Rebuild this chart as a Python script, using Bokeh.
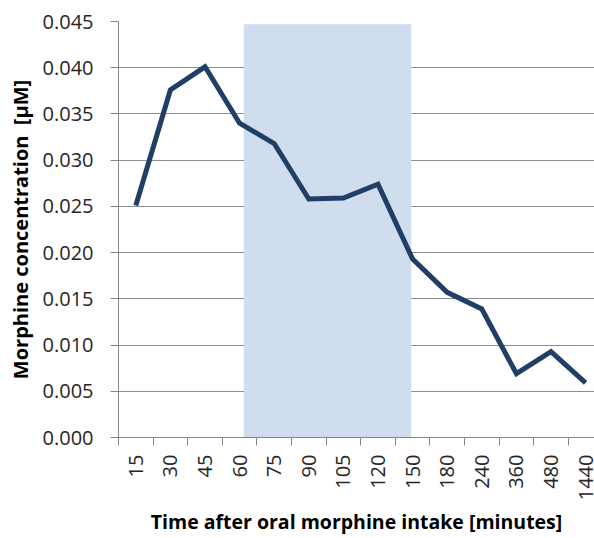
import math
from bokeh.plotting import figure
from bokeh.models import Range1d, FixedTicker, BoxAnnotation, NumeralTickFormatter
from bokeh.embed import file_html
from bokeh.resources import INLINE

# Data
times = ["15", "30", "45", "60", "75", "90", "105", "120", "150", "180", "240", "360", "480", "1440"]
concentration = [0.0251, 0.0376, 0.0401, 0.0340, 0.0318, 0.0258, 0.0259, 0.0274,
                 0.0193, 0.0157, 0.0139, 0.0069, 0.0093, 0.0059]
shade_start = 3.62   # category units
shade_end = 8.46
shade_top = 0.0447
y_ticks = [0.0, 0.005, 0.010, 0.015, 0.020, 0.025, 0.030, 0.035, 0.040, 0.045]

xs = [i + 0.5 for i in range(len(times))]
boundaries = [float(i) for i in range(len(times) + 1)]

p = figure(width=594, height=538, output_backend="svg", toolbar_location=None,
           x_range=Range1d(0, 13.757), y_range=Range1d(0, 0.045),
           min_border_left=118, min_border_right=0, min_border_top=21, min_border_bottom=100)
p.outline_line_color = None
p.background_fill_color = "white"
p.border_fill_color = "white"

p.add_layout(BoxAnnotation(left=shade_start, right=shade_end, bottom=0, top=shade_top,
                           fill_color="#D0DDEE", fill_alpha=1.0, line_color=None, level="underlay"))

p.line(xs, concentration, line_color="#1F3F66", line_width=5, line_join="miter")

# x axis
p.xaxis.ticker = FixedTicker(ticks=xs, minor_ticks=boundaries)
p.xaxis.major_label_overrides = {x: t for x, t in zip(xs, times)}
p.xaxis.major_tick_line_color = None
p.xaxis.major_tick_out = 8
p.xaxis.minor_tick_line_color = "#868686"
p.xaxis.minor_tick_out = 8
p.xaxis.minor_tick_in = 0
p.xaxis.major_label_orientation = math.pi / 2
p.xaxis.major_label_standoff = 9
p.xaxis.axis_line_color = "#868686"
p.xaxis.axis_label = "Time after oral morphine intake [minutes]"
p.xaxis.axis_label_text_font = "Open Sans"
p.xaxis.axis_label_text_font_style = "bold"
p.xaxis.axis_label_text_font_size = "19.5px"
p.xaxis.axis_label_text_color = "black"
p.xaxis.axis_label_standoff = 5
p.xaxis.major_label_text_font = "Open Sans"
p.xaxis.major_label_text_font_size = "20px"
p.xaxis.major_label_text_color = "#262626"

# y axis
p.yaxis.ticker = FixedTicker(ticks=y_ticks)
p.yaxis.formatter = NumeralTickFormatter(format="0.000")
p.yaxis.major_tick_out = 8
p.yaxis.major_tick_in = 0
p.yaxis.minor_tick_line_color = None
p.yaxis.major_tick_line_color = "#868686"
p.yaxis.axis_line_color = "#868686"
p.yaxis.major_label_standoff = 17
p.yaxis.major_label_text_font = "Open Sans"
p.yaxis.major_label_text_font_size = "20px"
p.yaxis.major_label_text_color = "#262626"
p.yaxis.axis_label = "Morphine concentration \u00a0[\u00b5M]"
p.yaxis.axis_label_text_font = "Open Sans"
p.yaxis.axis_label_text_font_style = "bold"
p.yaxis.axis_label_text_font_size = "20px"
p.yaxis.axis_label_text_color = "black"
p.yaxis.axis_label_standoff = 6

p.xgrid.grid_line_color = None
p.ygrid.ticker = FixedTicker(ticks=y_ticks)
p.ygrid.grid_line_color = "#8C8C8C"
p.ygrid.grid_line_width = 1

open("out.html", "w").write(file_html(p, INLINE))
